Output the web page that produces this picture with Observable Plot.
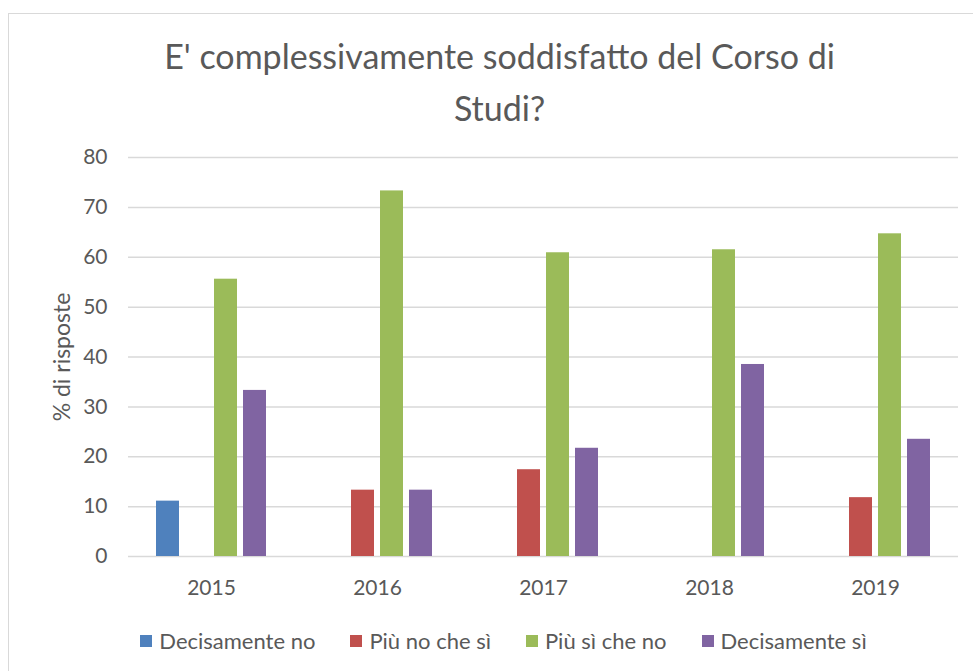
<!DOCTYPE html>
<html>
<head>
<meta charset="utf-8">
<script src="https://cdn.jsdelivr.net/npm/d3@7"></script>
<script src="https://cdn.jsdelivr.net/npm/@observablehq/plot@0.6"></script>
<style>
  html, body { margin: 0; padding: 0; background: #fff; width: 973px; height: 671px; overflow: hidden; }
  #frame { position: absolute; left: 8px; top: 13px; width: 1000px; height: 700px; border: 1.5px solid #d9d9d9; box-sizing: border-box; }
  #title { position: absolute; left: 0; top: 30px; width: 999px; text-align: center; font-family: Lato, sans-serif; font-size: 34px; line-height: 52px; color: #595959; }
  #chart { position: absolute; left: 0; top: 0; }
  #ylabel { position: absolute; left: 61px; top: 357px; transform: translate(-50%, -50%) rotate(-90deg); white-space: nowrap; font-family: Lato, sans-serif; font-size: 23px; line-height: 26px; color: #595959; }
  #legend { position: absolute; left: 0; top: 629px; width: 1007px; display: flex; justify-content: center; gap: 35px; font-family: Lato, sans-serif; font-size: 22px; line-height: 24px; color: #595959; }
  #legend .item { display: flex; align-items: center; }
  #legend .sw { width: 12px; height: 12px; margin-right: 7px; }
</style>
</head>
<body>
<div id="frame"></div>
<div id="title">E' complessivamente soddisfatto del Corso di<br>Studi?</div>
<div id="chart"></div>
<div id="ylabel">% di risposte</div>
<div id="legend"></div>
<script>
const years = ["2015", "2016", "2017", "2018", "2019"];
const series = ["Decisamente no", "Più no che sì", "Più sì che no", "Decisamente sì"];
const decisamenteNo = [11.1, 0, 0, 0, 0];
const piuNoCheSi = [0, 13.3, 17.4, 0, 11.8];
const piuSiCheNo = [55.6, 73.3, 60.9, 61.5, 64.7];
const decisamenteSi = [33.3, 13.3, 21.7, 38.5, 23.5];
const yTicks = [0, 10, 20, 30, 40, 50, 60, 70, 80];
const colors = ["#4F81BD", "#C0504D", "#9BBB59", "#8064A2"];

const valuesBySeries = [decisamenteNo, piuNoCheSi, piuSiCheNo, decisamenteSi];
const data = [];
years.forEach((yr, i) => {
  series.forEach((s, j) => {
    data.push({ year: yr, series: s, value: valuesBySeries[j][i] });
  });
});

const chart = Plot.plot({
  width: 973,
  height: 620,
  marginTop: 157,
  marginBottom: 64,
  marginLeft: 128,
  marginRight: 15,
  style: { fontFamily: "Lato, sans-serif", fontSize: "21px", color: "#595959", background: "transparent" },
  fx: { domain: years, padding: 0, axis: "bottom", tickSize: 0, tickPadding: 24, label: null },
  x: { domain: series, paddingInner: 0.2, paddingOuter: 0.867, axis: null },
  y: { domain: [0, 80], ticks: yTicks, tickSize: 0, tickPadding: 21, label: null },
  color: { domain: series, range: colors },
  marks: [
    Plot.ruleY(yTicks, { stroke: "#d9d9d9", strokeWidth: 1.5 }),
    Plot.barY(data, { fx: "year", x: "series", y: "value", fill: "series" })
  ]
});
document.getElementById("chart").appendChild(chart);

const legend = document.getElementById("legend");
series.forEach((s, j) => {
  const item = document.createElement("div");
  item.className = "item";
  const sw = document.createElement("span");
  sw.className = "sw";
  sw.style.background = colors[j];
  const t = document.createElement("span");
  t.textContent = s;
  item.appendChild(sw);
  item.appendChild(t);
  legend.appendChild(item);
});
</script>
</body>
</html>
